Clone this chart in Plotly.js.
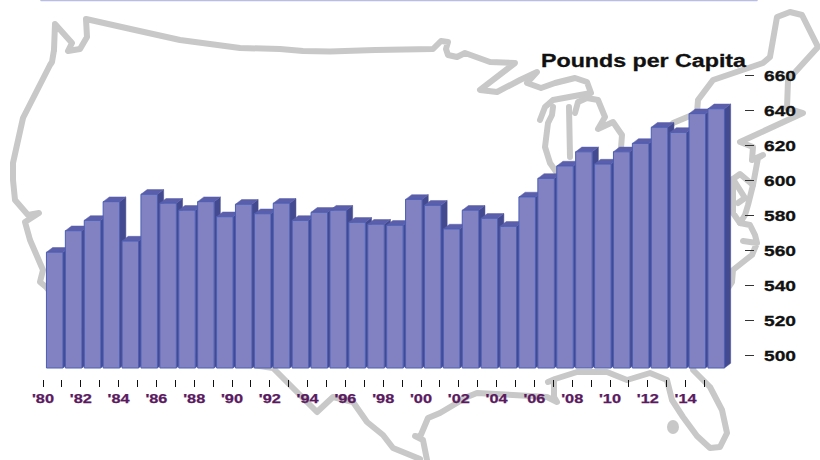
<!DOCTYPE html>
<html>
<head>
<meta charset="utf-8">
<title>Pounds per Capita</title>
<script src="https://cdn.plot.ly/plotly-3.0.1.min.js"></script>
<style>
html,body{margin:0;padding:0;background:#fff;}
#chart{width:820px;height:460px;}
.shapelayer path{stroke-linejoin:round;stroke-linecap:round;}
.ytick text,.gtitle{stroke:#111;stroke-width:0.3px;}
.xtick text{stroke:#5a1a60;stroke-width:0.25px;}
</style>
</head>
<body>
<div id="chart"></div>
<script>
const years = [1980,1981,1982,1983,1984,1985,1986,1987,1988,1989,1990,1991,1992,1993,1994,1995,1996,1997,1998,1999,2000,2001,2002,2003,2004,2005,2006,2007,2008,2009,2010,2011,2012,2013,2014,2015];
const pounds = [558.9,571.2,577.1,587.8,565.3,592.0,586.9,582.9,587.8,579.2,586.3,580.9,586.9,577.1,581.7,582.9,576.0,574.9,574.3,589.1,585.7,572.2,582.9,578.3,573.7,590.5,601.1,608.2,616.3,609.3,616.3,621.1,630.3,627.4,638.1,640.9];
const xTickLabels = ["'80","","'82","","'84","","'86","","'88","","'90","","'92","","'94","","'96","","'98","","'00","","'02","","'04","","'06","","'08","","'10","","'12","","'14",""];
const yTicks = [500,520,540,560,580,600,620,640,660];
const titleText = "Pounds per Capita";

// Decorative US outline behind the chart, in page pixels
const outlineWest = [[54,50],[55,24],[72,43],[68,51],[80,49],[87,37],[86,19],[135,30],[180,40],[240,48],[280,49],[303,51],[330,51.5],[375,50],[433,49],[441,41],[448,42],[446,49],[448,55],[457,57],[465,53],[490,62],[515,63],[480,90],[497,92],[520,80],[537,72],[527,83],[541,88],[555,83],[575,78],[587,82],[591,93],[553,100],[545,107],[540,120]];
const outlineCoast = [[54,50],[52,62],[50,65],[23,118],[13,163],[13,180],[15,200],[28,215],[39,213],[25,222],[30,240],[43,270],[40,282],[46,287],[80,330],[150,350],[273,368],[317,412],[333,397],[353,402],[367,422],[383,435],[393,448],[420,459]];
const outlineLakeMichigan = [[553,107],[552,115],[548,123],[545,147],[550,163],[557,173]];
const outlineMichigan = [[570,157],[569,107]];
const outlineEast = [[575,113],[578,102],[587,98],[598,100],[605,117],[598,129],[613,122],[622,135],[621,148],[610,175],[660,140],[673,123],[697,113],[698,100],[713,80],[763,63],[770,57],[777,17],[790,12],[802,15],[818,47],[788,80],[787,108],[803,113],[740,142],[753,147],[752,160],[763,155],[758,158],[753,185],[740,174],[733,179],[745,198],[738,203]];
const outlineDelmarva = [[753,185],[748,205],[745,215],[740,223]];
const outlineAtlantic = [[733,179],[733,213],[740,223],[750,225],[755,235],[757,243],[743,241],[757,243],[752,255],[743,262],[733,270],[732,282],[700,330],[693,370],[710,387],[722,410],[727,433],[720,447],[710,448],[697,436],[683,417],[672,400],[667,380],[650,373],[627,380],[607,372],[577,372],[555,379],[548,382],[554,380],[554,397],[557,402],[547,397],[513,395],[477,393],[467,397],[440,413],[428,418],[420,437],[415,436],[423,440],[427,460]];
const lakeCentre = [673,427];

const W = 820, H = 460;
const plotL = 20, plotR = 744, plotT = 60, plotB = 379;
const pitch = 18.9, firstCentre = 54.7;
const pxPerUnit = 1.75, px500 = 355.3;
const val = py => 500 + (px500 - py) / pxPerUnit;
const yearAt = px => 1980 + (px - firstCentre) / pitch;
const xRange = [yearAt(plotL), yearAt(plotR)];
const yRange = [val(plotB), val(plotT)];
const baseVal = val(368);
const barW = 16.5 / pitch, dx = 6.2 / pitch, dy = 4.7 / pxPerUnit;
const tickShift = 11.7 / pitch;

const fx = px => (px / W).toFixed(5), fy = py => (1 - py / H).toFixed(5);
const pathOf = pts => pts.map((p, i) => (i ? 'L' : 'M') + fx(p[0]) + ',' + fy(p[1])).join(' ');
const mapLine = {color:'#c8c8c8', width:6};
const shapes = [outlineWest, outlineCoast, outlineLakeMichigan, outlineMichigan, outlineEast, outlineDelmarva, outlineAtlantic].map(pts => ({
  type:'path', xref:'paper', yref:'paper', layer:'below', path:pathOf(pts), line:mapLine
}));
shapes.push({type:'circle', xref:'paper', yref:'paper', layer:'below',
  x0:fx(lakeCentre[0]-6), x1:fx(lakeCentre[0]+6), y0:fy(lakeCentre[1]+7), y1:fy(lakeCentre[1]-7),
  fillcolor:'#c8c8c8', line:{width:0}});
shapes.push({type:'line', xref:'paper', yref:'paper', layer:'below', x0:fx(41), x1:fx(757), y0:fy(0.5), y1:fy(0.5),
  line:{color:'#b9bde3', width:1.5}});

const traces = [];
years.forEach((yr, i) => {
  const v = pounds[i], xl = yr - barW/2, xr = yr + barW/2;
  traces.push({type:'scatter', mode:'lines', fill:'toself', fillcolor:'#444a8f', line:{color:'#444a8f', width:0.5},
    x:[xr, xr+dx, xr+dx, xr, xr], y:[baseVal, baseVal+dy, v+dy, v, baseVal], hoverinfo:'skip', showlegend:false});
  traces.push({type:'scatter', mode:'lines', fill:'toself', fillcolor:'#5b5fab', line:{color:'#5b5fab', width:0.5},
    x:[xl, xr, xr+dx, xl+dx, xl], y:[v, v, v+dy, v+dy, v], hoverinfo:'skip', showlegend:false});
});
traces.push({type:'bar', xaxis:'x2', yaxis:'y2', x:years, y:pounds.map(v => v - baseVal), base:baseVal, width:barW,
  marker:{color:'#8282c2', line:{color:'#4a5eb5', width:1}}, showlegend:false, hovertemplate:'%{x}: %{customdata}<extra></extra>', customdata:pounds});

const dom = {x:[plotL/W, plotR/W], y:[1-plotB/H, 1-plotT/H]};
const layout = {
  width:W, height:H, margin:{l:0,r:0,t:0,b:0}, paper_bgcolor:'rgba(0,0,0,0)', plot_bgcolor:'rgba(0,0,0,0)', showlegend:false,
  font:{family:'"Liberation Sans", Arial, sans-serif'},
  title:{text:titleText, xref:'paper', yref:'paper', x:541/W, xanchor:'left', y:1-61/H, yanchor:'middle',
    font:{family:'"Liberation Sans", Arial, sans-serif', size:18, weight:700, color:'#111'}},
  xaxis:{domain:dom.x, range:xRange, showgrid:false, zeroline:false, showline:false, anchor:'y',
    tickmode:'array', tickvals:years.map(y => y - tickShift), ticktext:xTickLabels, ticks:'outside', ticklen:7, tickwidth:1, tickcolor:'#111',
    ticklabelstandoff:2, tickangle:0, tickfont:{family:'"Liberation Sans", Arial, sans-serif', size:12, weight:700, color:'#5a1a60'}},
  yaxis:{domain:dom.y, range:yRange, side:'right', showgrid:false, zeroline:false, showline:false, anchor:'x',
    tickmode:'array', tickvals:yTicks, ticktext:yTicks.map(String), ticks:'outside', ticklen:9, tickwidth:1, tickcolor:'#333',
    ticklabelstandoff:7, tickfont:{family:'"Liberation Sans", Arial, sans-serif', size:15, weight:700, color:'#111'}},
  xaxis2:{domain:dom.x, range:xRange, overlaying:'x', visible:false, anchor:'y2'},
  yaxis2:{domain:dom.y, range:yRange, overlaying:'y', visible:false, anchor:'x2'},
  shapes:shapes
};
function stretch(sel, len){
  document.querySelectorAll(sel).forEach(t => {
    if(t.textContent.trim()){ t.setAttribute('textLength', len); t.setAttribute('lengthAdjust','spacingAndGlyphs'); }
  });
}
Plotly.newPlot('chart', traces, layout, {displayModeBar:false, responsive:false}).then(() => {
  stretch('.xtick text', 22);
  stretch('.ytick text', 32);
  stretch('.gtitle', 205);
});
</script>
</body>
</html>
